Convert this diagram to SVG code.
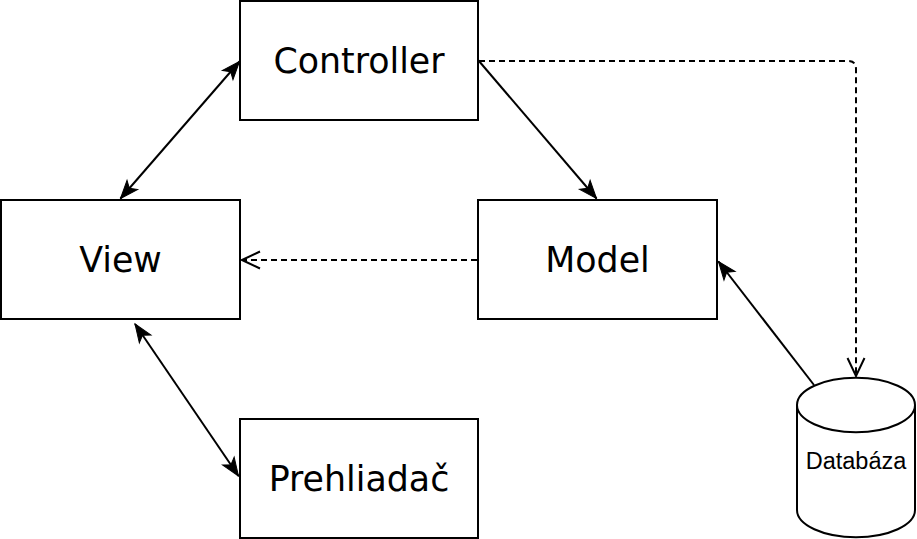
<svg xmlns="http://www.w3.org/2000/svg" width="917" height="539" viewBox="0 0 917 539">
<style>
.box{fill:#fff;stroke:#000;stroke-width:2}
.lbl{font-family:"DejaVu Sans",sans-serif;font-size:34.8px;fill:#000;text-anchor:middle}
.db{font-family:"Liberation Sans",Arial,sans-serif;font-size:23.5px;fill:#000;text-anchor:middle}
.ln{fill:none;stroke:#000;stroke-width:2}
.dash{stroke-dasharray:6 4}
</style>
<defs>
<marker id="classic" markerUnits="userSpaceOnUse" markerWidth="22" markerHeight="18" viewBox="-19 -9 20 18" refX="0" refY="0" orient="auto-start-reverse">
<path d="M0,0 L-18,-7 L-13.5,0 L-18,7 Z" fill="#000" stroke="#000" stroke-width="1"/>
</marker>
<marker id="open" markerUnits="userSpaceOnUse" markerWidth="22" markerHeight="20" viewBox="-20 -10 22 20" refX="0" refY="0" orient="auto">
<path d="M-18,-8.5 L0,0 L-18,8.5" fill="none" stroke="#000" stroke-width="2"/>
</marker>
</defs>
<g id="connectors">
<line class="ln" x1="120.5" y1="198.5" x2="239.5" y2="61.5" marker-start="url(#classic)" marker-end="url(#classic)"/>
<line class="ln" x1="478.5" y1="60.5" x2="596.5" y2="198.5" marker-end="url(#classic)"/>
<line class="ln dash" x1="477" y1="260" x2="242" y2="260" marker-end="url(#open)"/>
<line class="ln" x1="135" y1="324" x2="238.5" y2="476" marker-start="url(#classic)" marker-end="url(#classic)"/>
<line class="ln" x1="814" y1="385" x2="718.5" y2="261.5" marker-end="url(#classic)"/>
<path class="ln dash" d="M479,61 L848,61 Q856,61 856,69 L856,376" marker-end="url(#open)"/>
</g>
<g id="controller">
<rect class="box" x="240" y="1" width="238" height="119"/>
<text class="lbl" x="359" y="72.5">Controller</text>
</g>
<g id="view">
<rect class="box" x="1" y="200" width="239" height="119"/>
<text class="lbl" x="120.5" y="271.5">View</text>
</g>
<g id="model">
<rect class="box" x="478" y="200" width="239" height="119"/>
<text class="lbl" x="597.5" y="271.5">Model</text>
</g>
<g id="prehliadac">
<rect class="box" x="240" y="419" width="238" height="119"/>
<text class="lbl" x="359" y="490.5">Prehliadač</text>
</g>
<g id="databaza">
<path class="box" d="M797,405 A58.5,27 0 0 1 915,405 L915,510 A58.5,27 0 0 1 797,510 Z"/>
<path class="ln" d="M797,405 A58.5,27 0 0 0 915,405"/>
<text class="db" x="856" y="468.5">Databáza</text>
</g>
</svg>
